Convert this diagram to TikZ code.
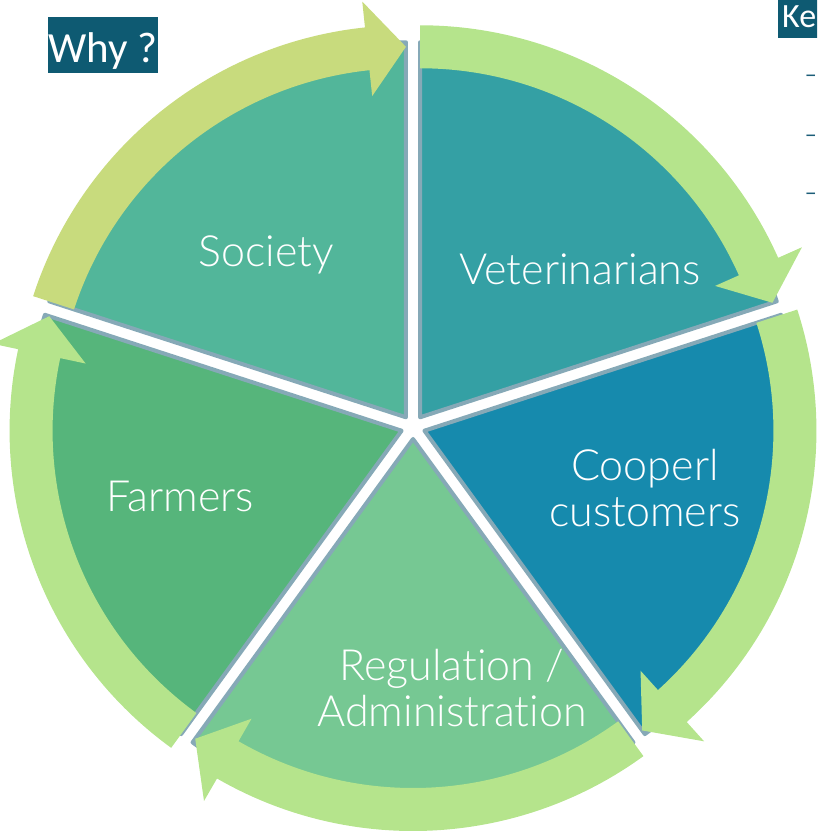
\documentclass[tikz,border=0pt]{standalone}
\usepackage{fontspec}
\setmainfont{Carlito}
\newfontfamily\labelfont{Lato Light}[Ligatures=NoCommon]
\usetikzlibrary{calc}

\definecolor{society}{HTML}{52B69A}
\definecolor{vets}{HTML}{34A0A4}
\definecolor{cooperl}{HTML}{168AAD}
\definecolor{regulation}{HTML}{76C893}
\definecolor{farmers}{HTML}{56B57B}
\definecolor{ringgreen}{HTML}{B5E48C}
\definecolor{ringlime}{HTML}{C8DB7D}
\definecolor{edgegray}{HTML}{86A9B7}
\definecolor{titlebox}{HTML}{0E5A72}
\definecolor{bullet}{HTML}{1C5D78}

% wedge of the wheel, pushed 12 out from the hub along its mid angle
\def\sector[#1](#2){\fill[#1, draw=edgegray, line width=4pt, line join=round] ($(O)+(#2:12)$) -- ++(#2+36:375) arc (#2+36:#2-36:375) -- cycle;}
% band with a head, running clockwise over the rim of one wedge
\def\ringarrow[#1](#2){\begin{scope}[shift={($(O)+(#2:12)$)}]\fill[#1] (#2+36:392) arc (#2+36:#2-30:392) -- (#2-30:418) -- (#2-36:370.5) -- (#2-30:323) -- (#2-30:349) arc (#2-30:#2+36:349) -- cycle;\end{scope}}

\tikzset{
  sectorlabel/.style={text=white, inner sep=0pt, align=center, font=\labelfont\fontsize{43}{46}\selectfont},
  titlebox/.style={fill=titlebox, text=white, inner sep=0pt, font=\fontsize{43}{46}\selectfont},
  bulletdash/.style={text=bullet, anchor=east, inner sep=0pt, font=\fontsize{24}{28}\selectfont}
}

\begin{document}
\begin{tikzpicture}[x=1pt, y=1pt]
			%%%%% FRAME %%%%%
			\useasboundingbox (0, 0) rectangle (817, 832);
			\clip (0, 0) rectangle (817, 832);
			\coordinate (O) at (413, 405);
			
			%%%%% WHEEL %%%%%
			\sector[society](126)
			\ringarrow[ringlime](126)
			
			\sector[vets](54)
			\ringarrow[ringgreen](54)
			
			\sector[cooperl](-18)
			\ringarrow[ringgreen](-18)
			
			\sector[regulation](-90)
			\ringarrow[ringgreen](-90)
			
			\sector[farmers](198)
			\ringarrow[ringgreen](198)
			
			%%%%% LABELS %%%%%
			\node[sectorlabel, anchor=base] (society) at (266, 565) {Society};
			\node[sectorlabel, anchor=base] (vet) at (580, 547) {Veterinarians};
			\node[sectorlabel] (cooperl) at (645, 344) {Cooperl\\customers};
			\node[sectorlabel, anchor=base] (farmers) at (180, 320) {Farmers};
			\node[sectorlabel] (regulation) at (452, 144) {Regulation /\\Administration};
			
			%%%%% HEADINGS %%%%%
			\node[titlebox, anchor=north west, text height=45pt, text depth=11pt, minimum width=110pt] (why) at (48, 815) {Why ?};
			\node[titlebox, anchor=north west, font=\fontsize{34}{38}\selectfont, text height=27pt, text depth=11pt, inner xsep=4pt, text width=76pt, align=left] (key) at (778, 832) {Ke};
			\node[bulletdash] (dashA) at (817, 753.6) {–};
			\node[bulletdash] (dashB) at (817, 693.6) {–};
			\node[bulletdash] (dashC) at (817, 635.6) {–};
\end{tikzpicture}
\end{document}
